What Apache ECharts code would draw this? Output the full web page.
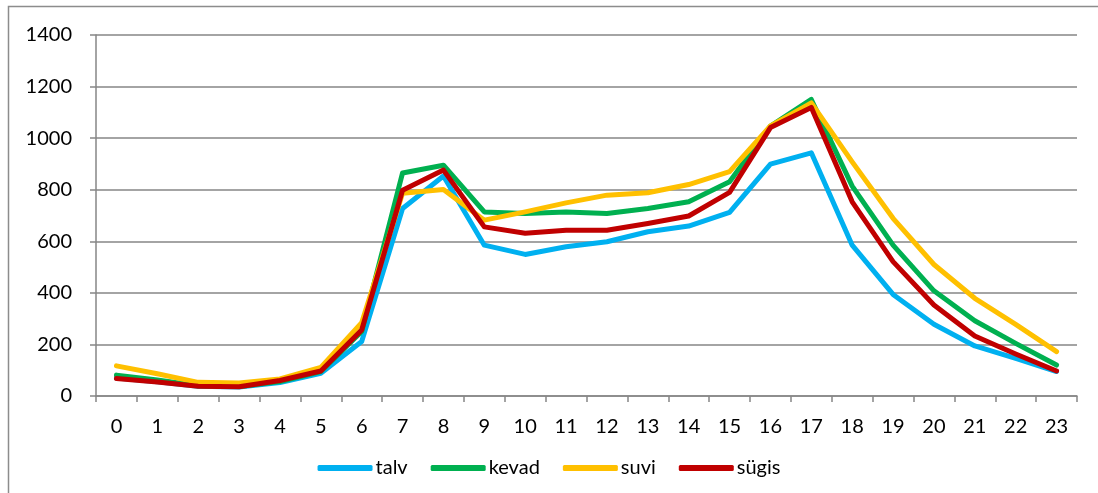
<!DOCTYPE html>
<html>
<head>
<meta charset="utf-8">
<script src="https://cdn.jsdelivr.net/npm/echarts@6/dist/echarts.min.js"></script>
<style>
  html, body { margin: 0; padding: 0; background: #fff; }
  #chart { width: 1098px; height: 493px; }
</style>
</head>
<body>
<div id="chart"></div>
<script>
// Hours of the day
const hours = ['0','1','2','3','4','5','6','7','8','9','10','11','12','13','14','15','16','17','18','19','20','21','22','23'];

// Hourly values per season
const talv   = [70, 55, 38, 35, 52, 88, 211, 727, 853, 585, 549, 579, 598, 637, 659, 712, 899, 943, 585, 394, 278, 194, 146, 95];
const kevad  = [81, 62, 40, 37, 56, 95, 250, 865, 895, 714, 708, 714, 708, 727, 753, 831, 1047, 1150, 814, 585, 408, 292, 204, 120];
const suvi   = [117, 86, 53, 50, 66, 111, 284, 786, 801, 682, 714, 749, 779, 788, 820, 870, 1047, 1137, 908, 689, 510, 379, 278, 172];
const sygis  = [68, 54, 38, 36, 60, 97, 256, 798, 876, 656, 631, 643, 643, 669, 698, 790, 1041, 1119, 753, 521, 353, 233, 163, 97];

const seriesNames = ['talv', 'kevad', 'suvi', 'sügis'];
const seriesData = [talv, kevad, suvi, sygis];
const colors = ['#00B0F0', '#00B050', '#FFC000', '#C00000'];

const yTicks = { min: 0, max: 1400, interval: 200 };

const font = 'Lato, "Open Sans", sans-serif';
const axisGray = '#868686';

const chart = echarts.init(document.getElementById('chart'), null, { renderer: 'canvas' });

chart.setOption({
  animation: false,
  backgroundColor: '#fff',
  color: colors,
  textStyle: { fontFamily: font },
  graphic: [{
    type: 'rect',
    silent: true,
    shape: { x: 8.5, y: 6.5, width: 1200, height: 600 },
    style: { fill: 'none', stroke: '#8c8c8c', lineWidth: 1.5 }
  }],
  grid: { left: 96, right: 21, top: 35, bottom: 97, containLabel: false },
  legend: {
    top: 453,
    left: 'center',
    itemWidth: 55,
    itemHeight: 6,
    itemGap: 23,
    icon: 'roundRect',
    textStyle: { fontFamily: font, fontSize: 20, color: '#000', padding: [0, 0, 0, -2] },
    data: seriesNames
  },
  xAxis: {
    type: 'category',
    data: hours,
    boundaryGap: true,
    axisLine: { lineStyle: { color: axisGray, width: 1.5 } },
    axisTick: { show: true, length: 6, lineStyle: { color: axisGray, width: 1.5 } },
    axisLabel: { color: '#000', fontSize: 20, margin: 21, fontFamily: font }
  },
  yAxis: {
    type: 'value',
    min: yTicks.min,
    max: yTicks.max,
    interval: yTicks.interval,
    axisLine: { show: true, lineStyle: { color: axisGray, width: 1.5 } },
    axisTick: { show: true, length: 6, lineStyle: { color: axisGray, width: 1.5 } },
    axisLabel: { color: '#000', fontSize: 20, margin: 24, fontFamily: font, formatter: v => String(v) },
    splitLine: { show: true, lineStyle: { color: axisGray, width: 1.5 } }
  },
  series: seriesNames.map((name, i) => ({
    name: name,
    type: 'line',
    data: seriesData[i],
    symbol: 'none',
    smooth: false,
    lineStyle: { width: 5, color: colors[i], cap: 'round', join: 'round' },
    itemStyle: { color: colors[i] }
  }))
});
</script>
</body>
</html>
